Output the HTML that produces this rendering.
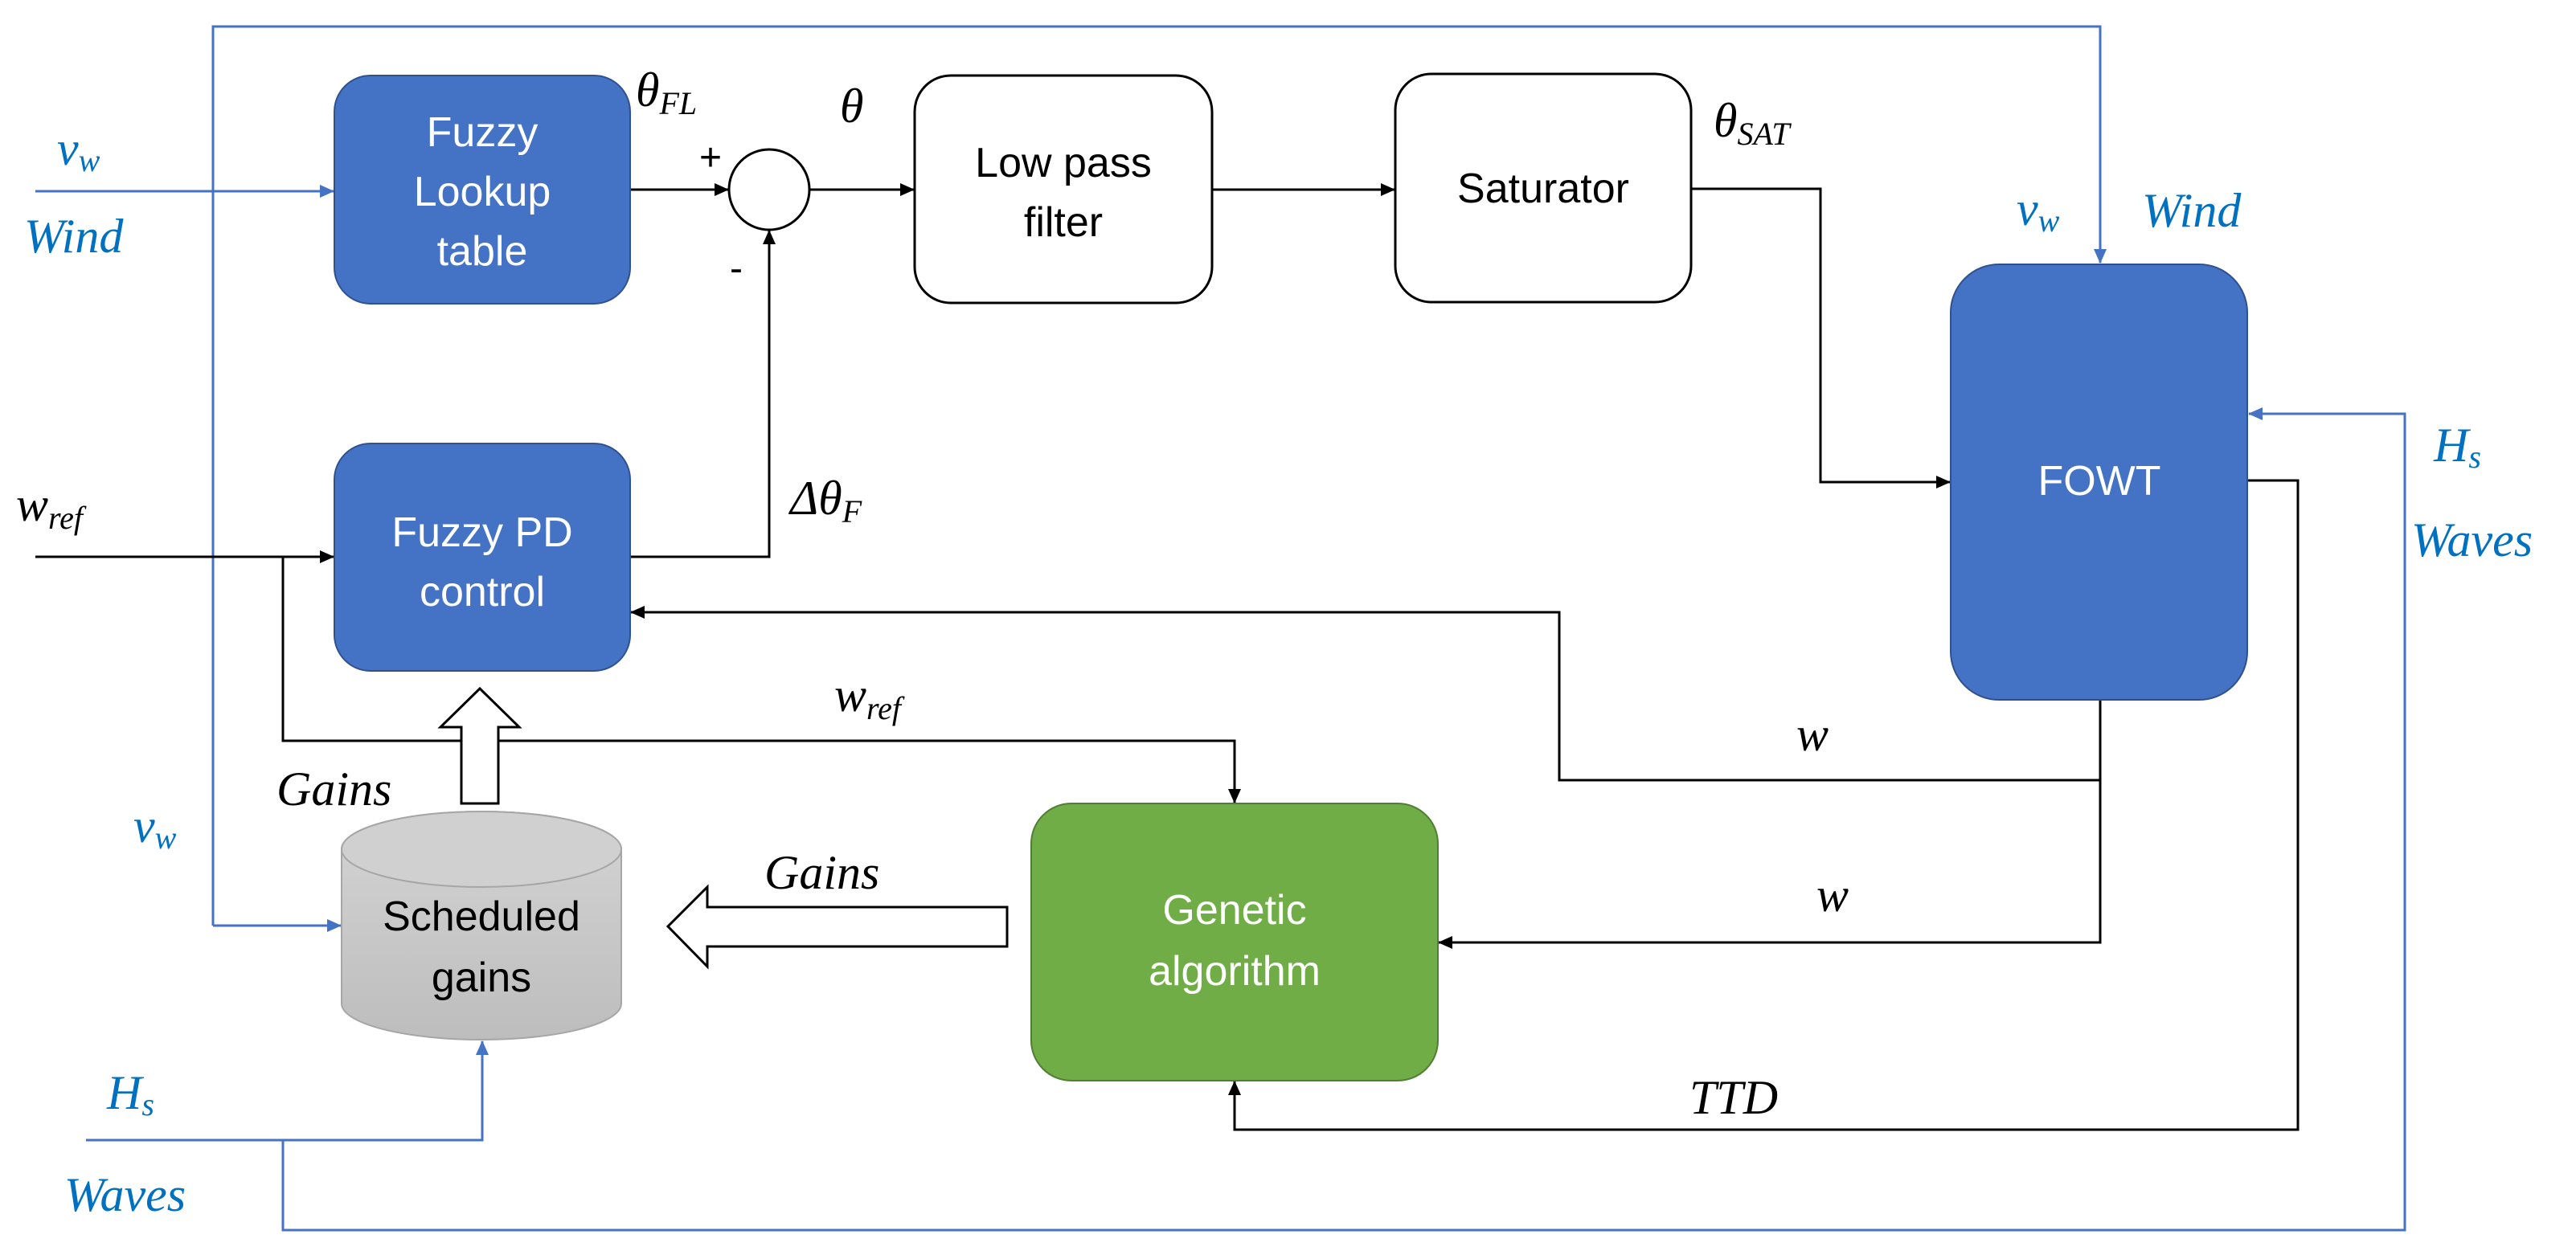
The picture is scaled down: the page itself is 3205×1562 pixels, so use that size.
<!DOCTYPE html>
<html><head><meta charset="utf-8"><style>
html,body{margin:0;padding:0;background:#fff;}
svg{display:block;}
.bt{font-family:"Liberation Sans",sans-serif;font-size:52px;fill:#fff;text-anchor:middle;}
.kt{font-family:"Liberation Sans",sans-serif;font-size:52px;fill:#000;text-anchor:middle;}
.m{font-family:"Liberation Serif",serif;font-style:italic;font-size:60px;fill:#000;}
.mb{font-family:"Liberation Serif",serif;font-style:italic;font-size:60px;fill:#0070C0;}
.s{font-size:40px;}
</style></head><body>
<svg width="3205" height="1562" viewBox="0 0 3205 1562" xmlns="http://www.w3.org/2000/svg">
<defs>
<marker id="ak" markerWidth="18" markerHeight="16" refX="17" refY="8" orient="auto" markerUnits="userSpaceOnUse" viewBox="0 0 18 16"><path d="M0,0 L18,8 L0,16 z" fill="#000"/></marker>
<marker id="ab" markerWidth="18" markerHeight="16" refX="17" refY="8" orient="auto" markerUnits="userSpaceOnUse" viewBox="0 0 18 16"><path d="M0,0 L18,8 L0,16 z" fill="#4472C4"/></marker>
<linearGradient id="cg" x1="0" y1="0" x2="0" y2="1"><stop offset="0" stop-color="#d4d4d4"/><stop offset="1" stop-color="#bdbdbd"/></linearGradient>
</defs>
<g fill="none" stroke="#4472C4" stroke-width="3">
<polyline points="265,1152 265,33 2613,33 2613,327" marker-end="url(#ab)"/>
<line x1="44" y1="238" x2="415" y2="238" marker-end="url(#ab)"/>
<polyline points="265,1152 424,1152" marker-end="url(#ab)"/>
<polyline points="107,1419 600,1419 600,1296" marker-end="url(#ab)"/>
<polyline points="352,1419 352,1531 2992,1531 2992,515 2798,515" marker-end="url(#ab)"/>
</g>
<g fill="none" stroke="#000" stroke-width="3">
<line x1="784" y1="236" x2="906" y2="236" marker-end="url(#ak)"/>
<line x1="1007" y1="236" x2="1137" y2="236" marker-end="url(#ak)"/>
<line x1="1508" y1="236" x2="1735" y2="236" marker-end="url(#ak)"/>
<polyline points="2104,235 2265,235 2265,600 2426,600" marker-end="url(#ak)"/>
<polyline points="784,693 957,693 957,287" marker-end="url(#ak)"/>
<line x1="44" y1="693" x2="415" y2="693" marker-end="url(#ak)"/>
<polyline points="352,693 352,922 1536,922 1536,999" marker-end="url(#ak)"/>
<polyline points="2613,871 2613,1173 1790,1173" marker-end="url(#ak)"/>
<polyline points="2613,971 1940,971 1940,762 785,762" marker-end="url(#ak)"/>
<polyline points="2796,598 2859,598 2859,1406 1536,1406 1536,1346" marker-end="url(#ak)"/>
</g>
<rect x="416" y="94" width="368" height="284" rx="45" fill="#4472C4" stroke="#2F528F" stroke-width="2"/>
<rect x="416" y="552" width="368" height="283" rx="45" fill="#4472C4" stroke="#2F528F" stroke-width="2"/>
<rect x="1138" y="94" width="370" height="283" rx="45" fill="#fff" stroke="#000" stroke-width="3"/>
<rect x="1736" y="92" width="368" height="284" rx="45" fill="#fff" stroke="#000" stroke-width="3"/>
<rect x="2427" y="329" width="369" height="542" rx="60" fill="#4472C4" stroke="#2F528F" stroke-width="2"/>
<rect x="1283" y="1000" width="506" height="345" rx="50" fill="#70AD47" stroke="#507E32" stroke-width="2"/>
<circle cx="957" cy="236" r="50" fill="#fff" stroke="#000" stroke-width="3"/>
<path d="M425,1057 L425,1249 A174,45 0 0 0 773,1249 L773,1057 A174,47 0 0 0 425,1057 Z" fill="url(#cg)" stroke="#a6a6a6" stroke-width="2"/>
<ellipse cx="599" cy="1057" rx="174" ry="47" fill="#d0d0d0" stroke="#a6a6a6" stroke-width="2"/>
<path d="M574,1000 L574,905 L548,905 L597,857 L646,905 L620,905 L620,1000 Z" fill="#fff" stroke="#000" stroke-width="3"/>
<path d="M1253,1129 L880,1129 L880,1104 L831,1153 L880,1203 L880,1178 L1253,1178 Z" fill="#fff" stroke="#000" stroke-width="3"/>
<text class="bt" x="600" y="182">Fuzzy</text>
<text class="bt" x="600" y="256">Lookup</text>
<text class="bt" x="600" y="330">table</text>
<text class="bt" x="600" y="680">Fuzzy PD</text>
<text class="bt" x="600" y="754">control</text>
<text class="kt" x="1323" y="220">Low pass</text>
<text class="kt" x="1323" y="294">filter</text>
<text class="kt" x="1920" y="252">Saturator</text>
<text class="bt" x="2612" y="616">FOWT</text>
<text class="bt" x="1536" y="1150">Genetic</text>
<text class="bt" x="1536" y="1226">algorithm</text>
<text class="kt" x="599" y="1158">Scheduled</text>
<text class="kt" x="599" y="1234">gains</text>
<text class="mb" x="71" y="205">v<tspan class="s" dy="8">w</tspan></text>
<text class="mb" x="30" y="314">Wind</text>
<text class="mb" x="2509" y="280">v<tspan class="s" dy="8">w</tspan></text>
<text class="mb" x="2665" y="282">Wind</text>
<text class="mb" x="3028" y="574">H<tspan class="s" dy="8">s</tspan></text>
<text class="mb" x="3000" y="692">Waves</text>
<text class="mb" x="166" y="1048">v<tspan class="s" dy="8">w</tspan></text>
<text class="mb" x="133" y="1380">H<tspan class="s" dy="8">s</tspan></text>
<text class="mb" x="80" y="1507">Waves</text>
<text class="m" x="791" y="132">θ<tspan class="s" dy="10">FL</tspan></text>
<text class="m" x="1045" y="152">θ</text>
<text class="m" x="2132" y="170">θ<tspan class="s" dy="10">SAT</tspan></text>
<text class="m" x="983" y="640">Δθ<tspan class="s" dy="10">F</tspan></text>
<text class="m" x="20" y="648">w<tspan class="s" dy="10">ref</tspan></text>
<text class="m" x="1038" y="885">w<tspan class="s" dy="10">ref</tspan></text>
<text class="m" x="344" y="1002">Gains</text>
<text class="m" x="951" y="1106">Gains</text>
<text class="m" x="2235" y="934">w</text>
<text class="m" x="2260" y="1134">w</text>
<text class="m" x="2102" y="1386">TTD</text>
<text style="font-family:'Liberation Sans',sans-serif;font-size:48px" x="870" y="212">+</text>
<text style="font-family:'Liberation Sans',sans-serif;font-size:48px" x="908" y="350">-</text>
</svg>
</body></html>
